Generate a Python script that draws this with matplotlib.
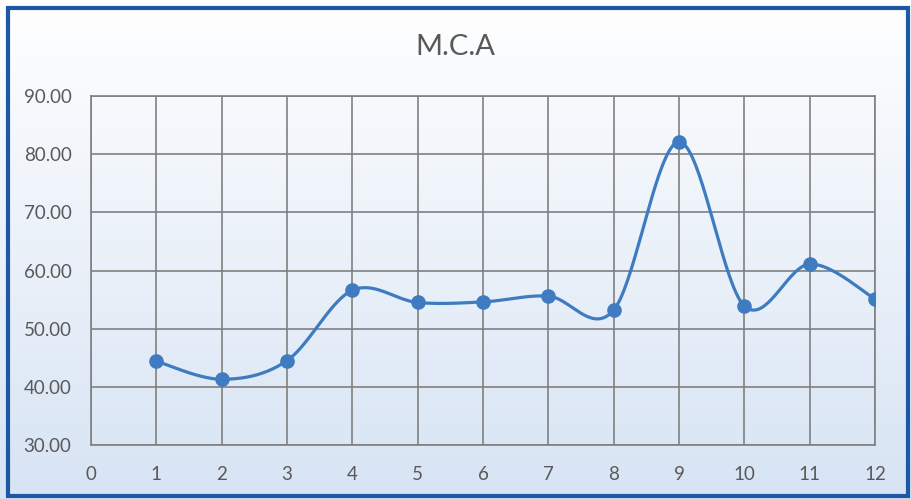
import numpy as np
import matplotlib
matplotlib.use("Agg")
import matplotlib.pyplot as plt
from matplotlib.patches import Rectangle

plt.rcParams['font.family'] = ['Lato', 'DejaVu Sans']

x_vals = [1, 2, 3, 4, 5, 6, 7, 8, 9, 10, 11, 12]
y_vals = [44.4, 41.3, 44.5, 56.6, 54.5, 54.6, 55.6, 53.2, 82.1, 53.9, 61.1, 55.1]
title = "M.C.A"
x_ticks = list(range(0, 13))
y_ticks = [30, 40, 50, 60, 70, 80, 90]

LINE = "#3F7BC1"
GRID = "#808080"
TXT = "#595959"


def excel_smooth(xs, ys, n=40):
    xs = np.asarray(xs, float)
    ys = np.asarray(ys, float)
    px, py = [], []
    m = len(xs)
    for i in range(m - 1):
        x0, y0 = (xs[i - 1], ys[i - 1]) if i > 0 else (xs[i], ys[i])
        x1, y1 = xs[i], ys[i]
        x2, y2 = xs[i + 1], ys[i + 1]
        x3, y3 = (xs[i + 2], ys[i + 2]) if i + 2 < m else (xs[i + 1], ys[i + 1])
        c1x, c1y = x1 + (x2 - x0) / 6, y1 + (y2 - y0) / 6
        c2x, c2y = x2 - (x3 - x1) / 6, y2 - (y3 - y1) / 6
        t = np.linspace(0, 1, n)
        b0 = (1 - t) ** 3
        b1 = 3 * (1 - t) ** 2 * t
        b2 = 3 * (1 - t) * t ** 2
        b3 = t ** 3
        px.extend(b0 * x1 + b1 * c1x + b2 * c2x + b3 * x2)
        py.extend(b0 * y1 + b1 * c1y + b2 * c2y + b3 * y2)
    return np.array(px), np.array(py)


fig = plt.figure(figsize=(9.11, 4.99), dpi=100)

# gradient background
bg = fig.add_axes([0, 0, 1, 1], zorder=-10)
grad = np.linspace(0, 1, 256).reshape(-1, 1)
top = np.array([1.0, 1.0, 1.0])
bot = np.array([0.843, 0.894, 0.957])
img = (top + (bot - top) * grad[:, :, None]).reshape(256, 1, 3)
bg.imshow(img, aspect='auto', extent=[0, 1, 0, 1], origin='upper')
bg.set_xlim(0, 1)
bg.set_ylim(0, 1)
bg.axis('off')
bg.add_patch(Rectangle((8 / 911, 3 / 499), 1 - 11 / 911, 1 - 11 / 499,
                       fill=False, edgecolor="#1E57A4", linewidth=3.0,
                       transform=bg.transAxes))

ax = fig.add_axes([91 / 911, 54 / 499, 784 / 911, 349 / 499])
ax.set_facecolor('none')
sx, sy = excel_smooth(x_vals, y_vals)
ax.plot(sx, sy, color=LINE, linewidth=2.3, zorder=3, solid_capstyle='round')
ax.plot(x_vals, y_vals, linestyle='none', marker='o', markersize=9.5,
        color=LINE, zorder=4)

ax.set_xlim(0, 12)
ax.set_ylim(30, 90)
ax.set_xticks(x_ticks)
ax.set_yticks(y_ticks)
ax.set_yticklabels([f"{v:.2f}" for v in y_ticks])
ax.grid(True, color=GRID, linewidth=1.2)
ax.set_axisbelow(True)
for s in ax.spines.values():
    s.set_color(GRID)
    s.set_linewidth(1.2)
ax.tick_params(length=0, labelsize=13.5, labelcolor=TXT)
ax.tick_params(axis='y', pad=14)
ax.tick_params(axis='x', pad=15)

fig.text(0.5, 1 - 47 / 499, title, ha='center', va='center',
         fontsize=21, color=TXT)

fig.savefig("out.png", dpi=100)
